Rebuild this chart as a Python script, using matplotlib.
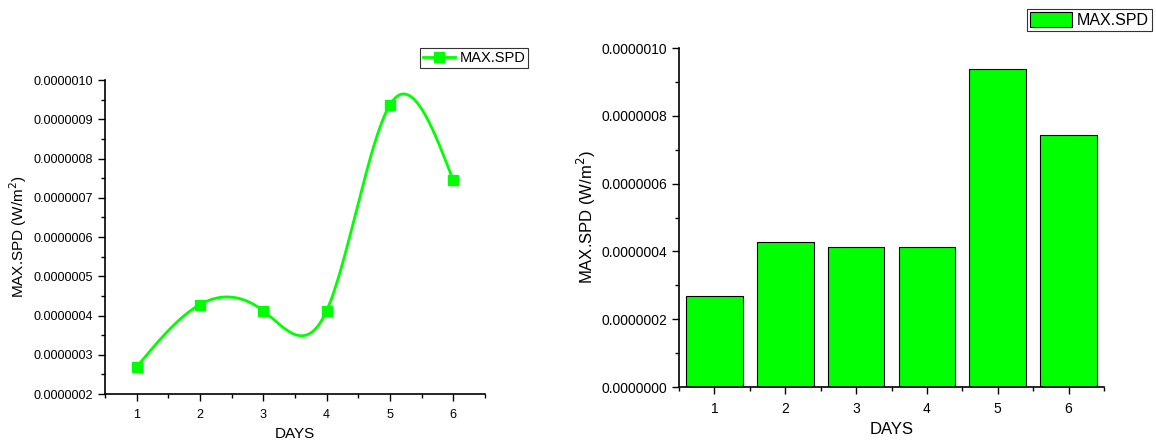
import numpy as np
import matplotlib.pyplot as plt
from matplotlib.ticker import MultipleLocator, FormatStrFormatter
from matplotlib.lines import Line2D
from matplotlib.patches import Patch

plt.rcParams['font.family'] = ['Liberation Sans', 'DejaVu Sans']

days = [1, 2, 3, 4, 5, 6]
max_spd = [2.69e-7, 4.28e-7, 4.12e-7, 4.12e-7, 9.37e-7, 7.44e-7]
green = "#00ff00"


def natural_spline(x, y, n=300):
    # plain natural cubic spline, only used to draw the smooth connecting line
    x = np.asarray(x, float)
    y = np.asarray(y, float)
    k = len(x)
    h = np.diff(x)
    A = np.zeros((k, k))
    b = np.zeros(k)
    A[0, 0] = A[-1, -1] = 1
    for i in range(1, k - 1):
        A[i, i - 1] = h[i - 1]
        A[i, i] = 2 * (h[i - 1] + h[i])
        A[i, i + 1] = h[i]
        b[i] = 3 * ((y[i + 1] - y[i]) / h[i] - (y[i] - y[i - 1]) / h[i - 1])
    c = np.linalg.solve(A, b)
    xs = np.linspace(x[0], x[-1], n)
    idx = np.clip(np.searchsorted(x, xs) - 1, 0, k - 2)
    hi = h[idx]
    bb = (y[idx + 1] - y[idx]) / hi - hi * (2 * c[idx] + c[idx + 1]) / 3
    dd = (c[idx + 1] - c[idx]) / (3 * hi)
    t = xs - x[idx]
    return xs, y[idx] + bb * t + c[idx] * t ** 2 + dd * t ** 3


fig = plt.figure(figsize=(11.56, 4.43), dpi=100)

# left: spline line + square markers
ax1 = fig.add_axes([0.0908, 0.1106, 0.3287, 0.7088])
xs, ys = natural_spline(days, max_spd)
ax1.plot(xs, ys, color=green, lw=2)
ax1.plot(days, max_spd, "s", color=green, ms=6.5, ls="none")
ax1.set_xlim(0.5, 6.5)
ax1.set_ylim(2e-7, 1e-6)
ax1.yaxis.set_major_locator(MultipleLocator(1e-7))
ax1.yaxis.set_minor_locator(MultipleLocator(0.5e-7))
ax1.yaxis.set_major_formatter(FormatStrFormatter("%.7f"))
ax1.set_ylabel("MAX.SPD (W/m$^2$)", fontsize=11)
ax1.yaxis.set_label_coords(-0.199, 0.5)
ax1.legend([Line2D([], [], color=green, lw=2, marker="s", ms=6.5)], ["MAX.SPD"],
           loc="upper left", bbox_to_anchor=(0.81, 1.125), fontsize=10.5,
           handlelength=2.2, handletextpad=0.3, borderpad=0.2, fancybox=False)

# right: bars
ax2 = fig.add_axes([0.5874, 0.1264, 0.3676, 0.7652])
ax2.bar(days, max_spd, width=0.8, color=green, edgecolor="black", linewidth=0.8)
ax2.set_xlim(0.5, 6.5)
ax2.set_ylim(0, 1e-6)
ax2.yaxis.set_major_locator(MultipleLocator(2e-7))
ax2.yaxis.set_minor_locator(MultipleLocator(1e-7))
ax2.yaxis.set_major_formatter(FormatStrFormatter("%.7f"))
ax2.set_ylabel("MAX.SPD (W/m$^2$)", fontsize=12)
ax2.yaxis.set_label_coords(-0.191, 0.5)
ax2.legend([Patch(facecolor=green, edgecolor="black", lw=0.8)], ["MAX.SPD"],
           loc="upper left", bbox_to_anchor=(0.8, 1.14), fontsize=11.5,
           handlelength=2.6, handleheight=1.1, handletextpad=0.3,
           borderpad=0.2, fancybox=False)

for ax, fs, lfs in ((ax1, 9.1, 11), (ax2, 10, 12)):
    ax.set_xticks(days)
    ax.xaxis.set_minor_locator(MultipleLocator(0.5))
    ax.set_xlabel("DAYS", fontsize=lfs, labelpad=4)
    ax.spines["top"].set_visible(False)
    ax.spines["right"].set_visible(False)
    ax.spines["left"].set_linewidth(1.2)
    ax.spines["bottom"].set_linewidth(1.2)
    ax.tick_params(which="major", direction="out", length=5, width=1, labelsize=fs)
    ax.tick_params(axis="x", which="major", pad=6)
    ax.tick_params(which="minor", direction="out", length=3, width=1)
    leg = ax.get_legend()
    leg.get_frame().set_edgecolor("black")
    leg.get_frame().set_linewidth(0.8)

fig.savefig("out.png", dpi=100)
